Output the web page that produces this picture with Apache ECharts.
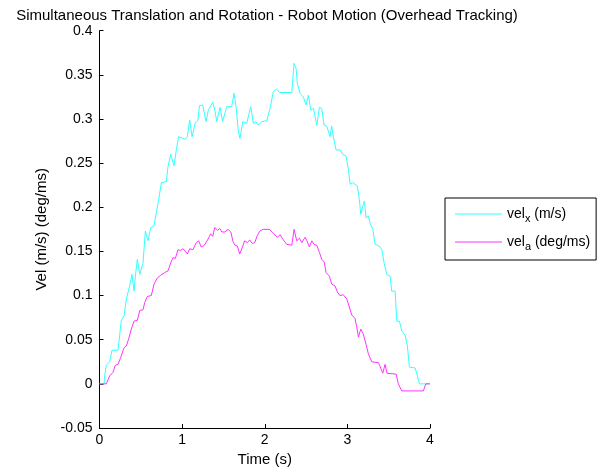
<!DOCTYPE html>
<html>
<head>
<meta charset="utf-8">
<script src="https://cdn.jsdelivr.net/npm/echarts@6/dist/echarts.min.js"></script>
<style>
    html, body { margin: 0; padding: 0; background: #fff; }
    #chart { width: 605px; height: 472px; }
</style>
</head>
<body>
<div id="chart"></div>
<script>
// time (s) and velocity samples
const timeX = [0, 0.055, 0.063, 0.082, 0.123, 0.151, 0.224, 0.244, 0.264, 0.297, 0.325, 0.365, 0.393, 0.418, 0.434, 0.458, 0.487, 0.527, 0.555, 0.587, 0.62, 0.66, 0.688, 0.717, 0.749, 0.809, 0.829, 0.862, 0.902, 0.93, 0.958, 1.039, 1.063, 1.092, 1.12, 1.16, 1.19, 1.21, 1.249, 1.29, 1.317, 1.37, 1.398, 1.419, 1.459, 1.49, 1.54, 1.6, 1.628, 1.653, 1.68, 1.7, 1.734, 1.782, 1.83, 1.862, 1.895, 1.922, 1.963, 2.024, 2.064, 2.104, 2.145, 2.177, 2.327, 2.355, 2.379, 2.395, 2.427, 2.467, 2.5, 2.528, 2.557, 2.589, 2.63, 2.661, 2.69, 2.718, 2.75, 2.79, 2.81, 2.83, 2.863, 2.91, 2.944, 2.984, 3.012, 3.033, 3.065, 3.121, 3.145, 3.162, 3.186, 3.206, 3.226, 3.254, 3.275, 3.308, 3.335, 3.387, 3.417, 3.444, 3.477, 3.517, 3.537, 3.578, 3.598, 3.63, 3.658, 3.699, 3.726, 3.751, 3.82, 3.848, 3.872, 4.0]
const velX = [0, 0, 0.009, 0.021, 0.025, 0.038, 0.038, 0.055, 0.072, 0.077, 0.096, 0.111, 0.124, 0.105, 0.122, 0.141, 0.124, 0.137, 0.173, 0.162, 0.177, 0.179, 0.194, 0.209, 0.228, 0.229, 0.246, 0.26, 0.247, 0.265, 0.28, 0.277, 0.28, 0.299, 0.28, 0.296, 0.298, 0.315, 0.316, 0.297, 0.31, 0.319, 0.309, 0.297, 0.313, 0.297, 0.314, 0.314, 0.329, 0.314, 0.286, 0.278, 0.297, 0.295, 0.314, 0.295, 0.297, 0.293, 0.297, 0.298, 0.312, 0.331, 0.334, 0.33, 0.33, 0.363, 0.357, 0.34, 0.329, 0.325, 0.316, 0.327, 0.31, 0.312, 0.293, 0.313, 0.312, 0.293, 0.292, 0.28, 0.292, 0.28, 0.265, 0.265, 0.26, 0.258, 0.243, 0.226, 0.228, 0.224, 0.209, 0.192, 0.201, 0.207, 0.188, 0.19, 0.182, 0.175, 0.158, 0.156, 0.152, 0.137, 0.124, 0.122, 0.105, 0.105, 0.071, 0.071, 0.06, 0.055, 0.043, 0.019, 0.018, 0.009, 0, 0]

const timeA = [0, 0.082, 0.09, 0.123, 0.163, 0.191, 0.224, 0.257, 0.297, 0.325, 0.353, 0.385, 0.418, 0.458, 0.487, 0.527, 0.547, 0.579, 0.627, 0.66, 0.7, 0.741, 0.789, 0.829, 0.862, 0.89, 0.918, 0.95, 0.98, 1.011, 1.04, 1.063, 1.092, 1.13, 1.172, 1.2, 1.232, 1.27, 1.314, 1.346, 1.37, 1.395, 1.43, 1.455, 1.48, 1.516, 1.556, 1.59, 1.616, 1.64, 1.668, 1.697, 1.73, 1.757, 1.79, 1.818, 1.85, 1.879, 1.91, 1.94, 1.98, 2.056, 2.097, 2.12, 2.153, 2.185, 2.218, 2.266, 2.327, 2.355, 2.387, 2.42, 2.448, 2.488, 2.51, 2.54, 2.57, 2.597, 2.63, 2.661, 2.69, 2.72, 2.742, 2.782, 2.811, 2.85, 2.879, 2.91, 2.95, 2.993, 3.024, 3.053, 3.093, 3.114, 3.134, 3.162, 3.19, 3.226, 3.254, 3.295, 3.376, 3.39, 3.428, 3.456, 3.48, 3.59, 3.617, 3.658, 3.92, 3.949, 4.0]
const velA = [0, 0, -0.001, 0.009, 0.013, 0.021, 0.022, 0.03, 0.041, 0.043, 0.051, 0.062, 0.071, 0.072, 0.083, 0.084, 0.092, 0.099, 0.1, 0.113, 0.12, 0.123, 0.126, 0.128, 0.137, 0.143, 0.142, 0.152, 0.151, 0.153, 0.15, 0.147, 0.153, 0.152, 0.16, 0.162, 0.155, 0.157, 0.164, 0.17, 0.167, 0.177, 0.174, 0.176, 0.172, 0.172, 0.175, 0.172, 0.161, 0.157, 0.156, 0.147, 0.155, 0.162, 0.16, 0.163, 0.159, 0.16, 0.168, 0.173, 0.175, 0.175, 0.171, 0.173, 0.166, 0.169, 0.164, 0.158, 0.157, 0.175, 0.162, 0.165, 0.16, 0.166, 0.162, 0.155, 0.162, 0.158, 0.157, 0.149, 0.141, 0.138, 0.126, 0.122, 0.113, 0.111, 0.104, 0.1, 0.101, 0.096, 0.087, 0.078, 0.074, 0.064, 0.053, 0.062, 0.057, 0.045, 0.034, 0.025, 0.024, 0.021, 0.012, 0.022, 0.012, 0.011, 0, -0.008, -0.008, 0, 0]

const seriesNames = ['velX', 'velA']
const legendLabels = {
    velX: '{n|vel}{s|x}{n| (m/s)}',
    velA: '{n|vel}{s|a}{n| (deg/ms)}',
}

const font = 'Arial, "Liberation Sans", Helvetica, sans-serif'

function pairs(xs, ys) {
    return xs.map((x, i) => [x, ys[i]])
}

const chart = echarts.init(document.getElementById('chart'))
chart.setOption({
    animation: false,
    textStyle: { fontFamily: font, color: '#000' },
    title: {
        text: 'Simultaneous Translation and Rotation - Robot Motion (Overhead Tracking)',
        left: 262,
        top: 3,
        textAlign: 'center',
        textStyle: { fontFamily: font, fontSize: 15, fontWeight: 'normal', color: '#000' },
    },
    grid: {
        left: 99.5,
        right: 175,
        top: 30.7,
        bottom: 42.7,
        containLabel: false,
    },
    legend: {
        orient: 'vertical',
        left: 445,
        top: 198,
        padding: [5.5, 6, 7.5, 10],
        itemGap: 7,
        itemWidth: 47,
        itemHeight: 1,
        borderColor: '#000',
        borderWidth: 1,
        borderRadius: 0,
        backgroundColor: '#fff',
        formatter: name => legendLabels[name],
        textStyle: {
            fontFamily: font,
            fontSize: 14,
            color: '#000',
            rich: {
                n: { fontFamily: font, fontSize: 14, color: '#000', lineHeight: 20 },
                s: { fontFamily: font, fontSize: 11, color: '#000', lineHeight: 10, padding: [10, 0, 0, 0] },
            },
        },
        data: seriesNames.map(name => ({ name, icon: 'rect' })),
    },
    xAxis: {
        type: 'value',
        min: 0,
        max: 4,
        interval: 1,
        name: 'Time (s)',
        nameLocation: 'middle',
        nameGap: 24,
        nameTextStyle: { fontFamily: font, fontSize: 15, color: '#000' },
        splitLine: { show: false },
        axisLine: { onZero: false, lineStyle: { color: '#000', width: 1 } },
        axisTick: { inside: true, length: 4, lineStyle: { color: '#000' } },
        axisLabel: { fontFamily: font, fontSize: 14, color: '#000', margin: 5 },
    },
    yAxis: {
        type: 'value',
        min: -0.05,
        max: 0.4,
        interval: 0.05,
        name: 'Vel (m/s) (deg/ms)',
        nameLocation: 'middle',
        nameGap: 41,
        nameTextStyle: { fontFamily: font, fontSize: 15, color: '#000' },
        splitLine: { show: false },
        axisLine: { show: true, onZero: false, lineStyle: { color: '#000', width: 1 } },
        axisTick: { show: true, inside: true, length: 4, lineStyle: { color: '#000' } },
        axisLabel: {
            fontFamily: font,
            fontSize: 14,
            color: '#000',
            margin: 7,
            formatter: v => String(Math.round(v * 100) / 100),
        },
    },
    series: [
        {
            name: 'velX',
            type: 'line',
            symbol: 'none',
            data: pairs(timeX, velX),
            lineStyle: { color: '#33ffff', width: 1 },
            itemStyle: { color: '#33ffff' },
        },
        {
            name: 'velA',
            type: 'line',
            symbol: 'none',
            data: pairs(timeA, velA),
            lineStyle: { color: '#ff33ff', width: 1 },
            itemStyle: { color: '#ff33ff' },
        },
    ],
})
</script>
</body>
</html>
